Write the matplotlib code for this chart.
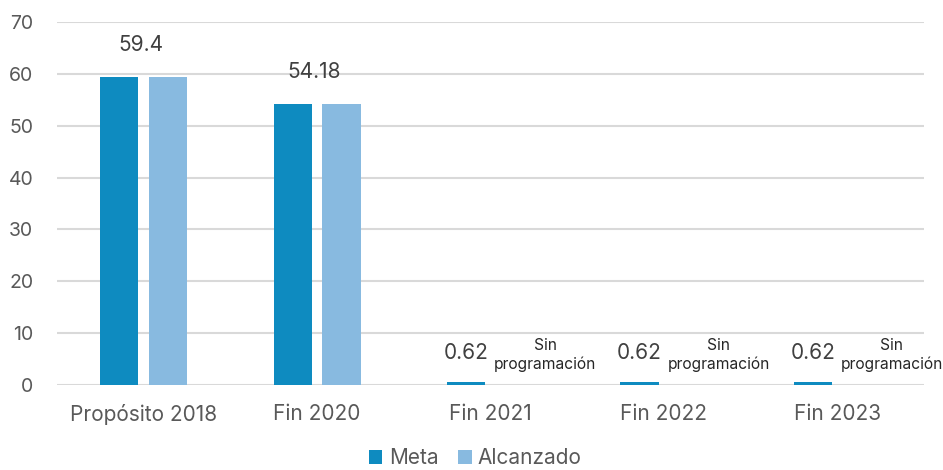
import matplotlib
matplotlib.use("Agg")
import matplotlib.pyplot as plt
import numpy as np

categories = ["Propósito 2018", "Fin 2020", "Fin 2021", "Fin 2022", "Fin 2023"]
meta = [59.4, 54.18, 0.62, 0.62, 0.62]
alcanzado = [59.4, 54.18, 0, 0, 0]
top_labels = ["59.4", "54.18", None, None, None]
small_labels = [None, None, "0.62", "0.62", "0.62"]
note_labels = [None, None, "Sin\nprogramación", "Sin\nprogramación", "Sin\nprogramación"]
yticks = [0, 10, 20, 30, 40, 50, 60, 70]

plt.rcParams['font.family'] = ['Inter', 'DejaVu Sans']

c_meta = "#0E8BC0"
c_alc = "#88BAE0"

fig = plt.figure(figsize=(9.43, 4.70), dpi=100)
ax = fig.add_axes([57/943, 1-385/470, (924-57)/943, (385-22)/470])

x = np.arange(len(categories))
w = 0.22
off = 0.141
ax.bar(x - off, meta, width=w, color=c_meta, label="Meta", zorder=3)
ax.bar(x + off, alcanzado, width=w, color=c_alc, label="Alcanzado", zorder=3)

for i in range(len(categories)):
    if top_labels[i]:
        ax.text(x[i] - 0.015, meta[i] + 4.3, top_labels[i], ha="center", va="bottom",
                fontsize=15, color="#404040")
    if small_labels[i]:
        ax.text(x[i] - off, meta[i] + 3.6, small_labels[i], ha="center", va="bottom",
                fontsize=15, color="#404040")
    if note_labels[i]:
        ax.text(x[i] + 0.315, meta[i] + 1.9, note_labels[i], ha="center", va="bottom",
                fontsize=11.2, color="#262626", linespacing=1.25)

ax.set_xlim(-0.5, len(categories) - 0.5)
ax.set_ylim(0, 70)
ax.set_yticks(yticks)
ax.set_xticks(x)
ax.set_xticklabels(categories)
ax.tick_params(axis="both", length=0, labelsize=15, colors="#595959")
ax.tick_params(axis="y", labelsize=14, pad=17)
ax.tick_params(axis="x", pad=14)
ax.grid(axis="y", color="#D9D9D9", linewidth=1.5, zorder=0)
for s in ax.spines.values():
    s.set_visible(False)

leg = fig.legend(loc="lower center", bbox_to_anchor=(0.504, -0.036), ncol=2, frameon=False,
                 fontsize=15, handlelength=0.65, handleheight=0.65, handletextpad=0.3,
                 columnspacing=0.95)
for t in leg.get_texts():
    t.set_color("#595959")

fig.savefig("out.png", dpi=100)
